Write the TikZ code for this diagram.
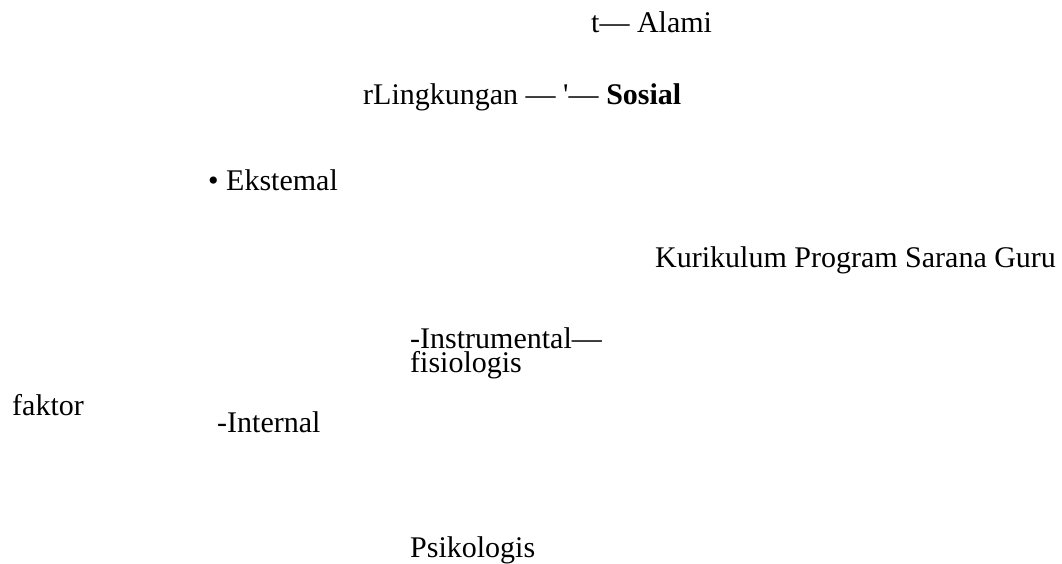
\documentclass[tikz,border=0pt]{standalone}
\usepackage{fontspec}
\setmainfont{Liberation Serif}
\usepackage{tikz}
\usetikzlibrary{positioning}

\begin{document}
\begin{tikzpicture}[x=1pt,y=-1pt,
    lbl/.style={anchor=base west,inner sep=0pt,font=\fontsize{30}{24}\selectfont}]
  % page frame, pixel units
  \useasboundingbox (0,0) rectangle (1062,563);
  % environment branch
  \node[lbl] (alami) at (591,32) {t— Alami};
  \node[lbl] (lingkungan) at (363,104) {rLingkungan — \textquotesingle— \textbf{Sosial}};
  \node[lbl] (eksternal) at (208,190) {• Ekstemal};
  \node[lbl] (instrumen) at (655,267) {Kurikulum Program Sarana Guru};
  % internal branch (base sits on the second line)
  \node[lbl,align=left] (instrumental) at (410,372) {-Instrumental—\\fisiologis};
  \node[lbl] (faktor) at (12,415) {faktor};
  \node[lbl] (internal) at (217,432) {-Internal};
  \node[lbl] (psikologis) at (410,557) {Psikologis};
\end{tikzpicture}
\end{document}
